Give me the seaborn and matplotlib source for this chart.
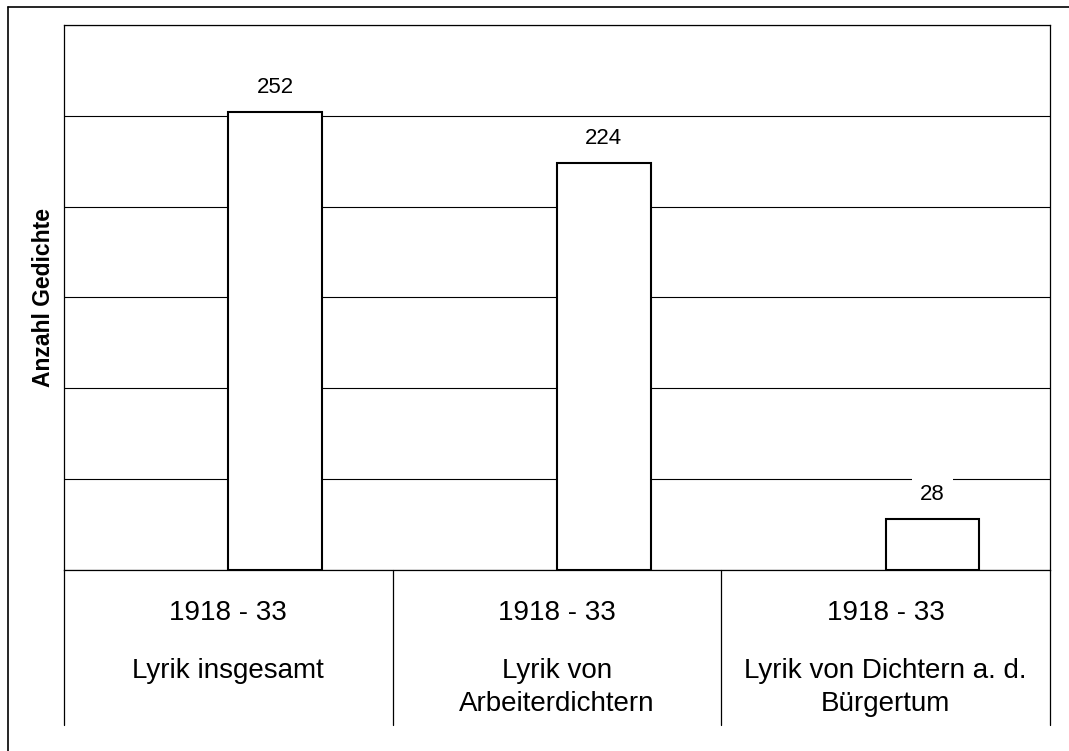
import pandas as pd
import matplotlib.pyplot as plt
import seaborn as sns
from matplotlib.lines import Line2D
import matplotlib.transforms as mtransforms

sns.set_style("white")
plt.rcParams['font.family'] = ['Liberation Sans', 'DejaVu Sans']
plt.rcParams['text.color'] = 'black'

# Daten
zeitraum = ["1918 - 33", "1918 - 33", "1918 - 33"]
kategorien = ["Lyrik insgesamt", "Lyrik von\nArbeiterdichtern", "Lyrik von Dichtern a. d.\nBürgertum"]
anzahl = [252, 224, 28]
serie = ["Anzahl", "Anzahl", "Anzahl"]
serien_order = ["leer", "Anzahl"]   # leere erste Reihe -> Balken rechts der Mitte

df = pd.DataFrame({"kategorie": kategorien, "anzahl": anzahl, "serie": serie})

fig = plt.figure(figsize=(10.69, 7.51), dpi=100)
ax = fig.add_axes([64 / 1069, 1 - 570 / 751, 986 / 1069, 545 / 751])

sns.barplot(data=df, x="kategorie", y="anzahl", hue="serie", hue_order=serien_order,
            palette={"leer": "white", "Anzahl": "white"}, edgecolor="black",
            linewidth=1.5, width=0.57, dodge=True, legend=False, ax=ax, zorder=3)

ax.set_ylim(0, 300)
ax.set_xlim(-0.5, 2.5)
ax.set_yticks(range(0, 301, 50))
ax.set_yticklabels([])
ax.set_xticks([])
ax.tick_params(length=0)
ax.grid(axis="y", color="black", linewidth=0.8, zorder=0)
ax.set_axisbelow(True)
ax.set_xlabel("")
ax.set_ylabel("")
for s in ax.spines.values():
    s.set_visible(True)
    s.set_color("black")
    s.set_linewidth(0.9)

# Werte über den Balken (weißer Kasten unterbricht die Gitterlinie)
for cont in ax.containers:
    ax.bar_label(cont, fmt="%d", padding=10, fontsize=16, color="black",
                 bbox=dict(facecolor="white", edgecolor="none", pad=6))

# Kategorienbeschriftung unter der Achse
trans = mtransforms.blended_transform_factory(ax.transData, ax.transAxes)
zeilen_y = [-0.198, -0.259]
for i, (z, k) in enumerate(zip(zeitraum, kategorien)):
    ax.text(i, -0.0917, z, transform=trans, ha="center", va="baseline", fontsize=20)
    for j, zeile in enumerate(k.split("\n")):
        ax.text(i, zeilen_y[j], zeile, transform=trans, ha="center", va="baseline",
                fontsize=20)
for x in [-0.5, 0.5, 1.5, 2.5]:
    ax.plot([x, x], [0, -0.284], transform=trans, color="black", lw=0.9, clip_on=False)

ax.text(-0.0203, 0.5, "Anzahl Gedichte", transform=ax.transAxes, rotation=90,
        ha="center", va="center", fontsize=16.5, fontweight="bold")

# äußerer Rahmen
fig.add_artist(Line2D([8 / 1069, 8 / 1069], [0, 1 - 7 / 751], color="black", lw=1.2))
fig.add_artist(Line2D([8 / 1069, 1], [1 - 7 / 751, 1 - 7 / 751], color="black", lw=1.2))

fig.savefig("out.png", dpi=100)
